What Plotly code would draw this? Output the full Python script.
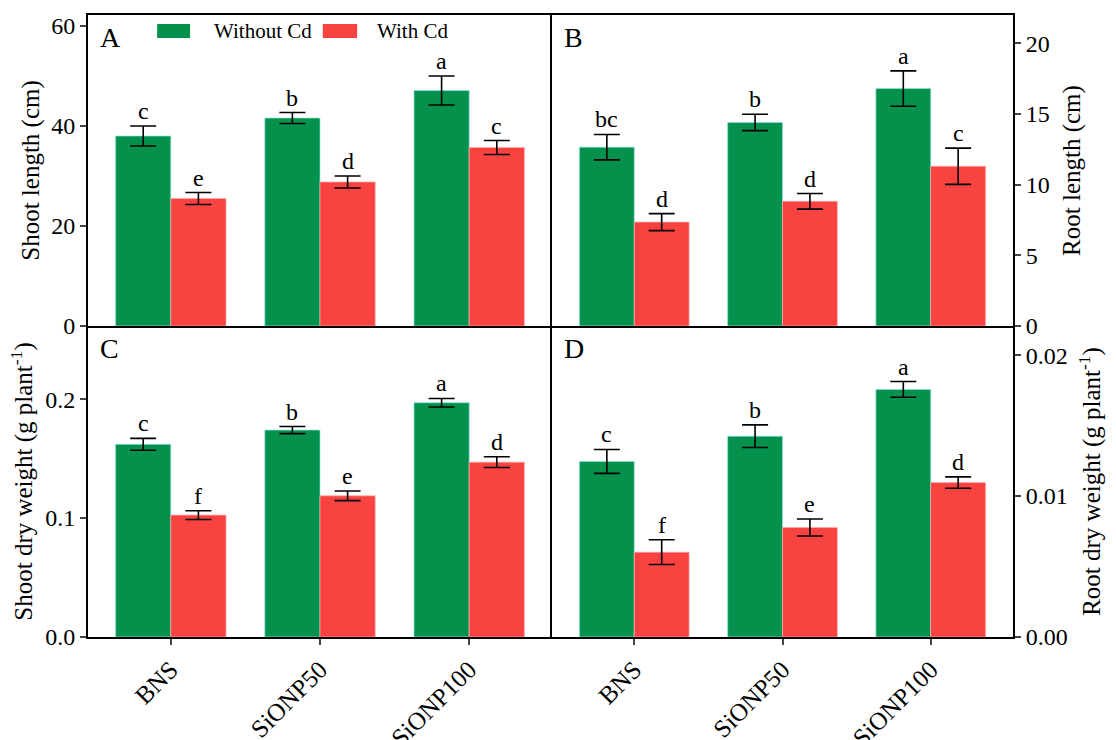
import plotly.graph_objects as go
from plotly.subplots import make_subplots

categories = ["BNS", "SiONP50", "SiONP100"]
series_names = ["Without Cd", "With Cd"]

# Panel A: shoot length (cm)
shoot_len_wo = [38.0, 41.6, 47.1]
shoot_len_wo_se = [2.0, 1.1, 2.9]
shoot_len_w = [25.5, 28.8, 35.7]
shoot_len_w_se = [1.2, 1.2, 1.4]
shoot_len_wo_lab = ["c", "b", "a"]
shoot_len_w_lab = ["e", "d", "c"]

# Panel B: root length (cm)
root_len_wo = [12.65, 14.4, 16.8]
root_len_wo_se = [0.9, 0.58, 1.25]
root_len_w = [7.35, 8.82, 11.3]
root_len_w_se = [0.6, 0.55, 1.28]
root_len_wo_lab = ["bc", "b", "a"]
root_len_w_lab = ["d", "d", "c"]

# Panel C: shoot dry weight (g plant-1)
shoot_dw_wo = [0.162, 0.174, 0.197]
shoot_dw_wo_se = [0.005, 0.003, 0.0036]
shoot_dw_w = [0.1025, 0.1187, 0.147]
shoot_dw_w_se = [0.0037, 0.004, 0.0045]
shoot_dw_wo_lab = ["c", "b", "a"]
shoot_dw_w_lab = ["f", "e", "d"]

# Panel D: root dry weight (g plant-1)
root_dw_wo = [0.01246, 0.01425, 0.01757]
root_dw_wo_se = [0.00085, 0.0008, 0.00056]
root_dw_w = [0.00602, 0.00777, 0.01096]
root_dw_w_se = [0.00088, 0.0006, 0.0004]
root_dw_wo_lab = ["c", "b", "a"]
root_dw_w_lab = ["f", "e", "d"]

GREEN = "#03914B"
RED = "#F94341"
FONT = "Liberation Serif"

fig = make_subplots(rows=2, cols=2, horizontal_spacing=0, vertical_spacing=0)

panels = [
    (1, 1, shoot_len_wo, shoot_len_wo_se, shoot_len_w, shoot_len_w_se, shoot_len_wo_lab, shoot_len_w_lab, "A"),
    (1, 2, root_len_wo, root_len_wo_se, root_len_w, root_len_w_se, root_len_wo_lab, root_len_w_lab, "B"),
    (2, 1, shoot_dw_wo, shoot_dw_wo_se, shoot_dw_w, shoot_dw_w_se, shoot_dw_wo_lab, shoot_dw_w_lab, "C"),
    (2, 2, root_dw_wo, root_dw_wo_se, root_dw_w, root_dw_w_se, root_dw_wo_lab, root_dw_w_lab, "D"),
]

bargap = 0.26
half = (1 - bargap) / 4.0  # offset of each bar centre from category centre

annotations = []
for idx, (r, c, wo, wo_se, w, w_se, wo_lab, w_lab, letter) in enumerate(panels):
    xref = "x" if idx == 0 else f"x{idx+1}"
    yref = "y" if idx == 0 else f"y{idx+1}"
    for vals, errs, name, col, labs, sign in [
        (wo, wo_se, series_names[0], GREEN, wo_lab, -1),
        (w, w_se, series_names[1], RED, w_lab, 1),
    ]:
        fig.add_trace(
            go.Bar(
                x=categories, y=vals, name=name,
                marker=dict(color=col, line=dict(color="rgba(140,230,230,0.7)" if col == GREEN else "rgba(255,170,170,0.7)", width=1)),
                error_y=dict(type="data", array=errs, visible=True, color="black", thickness=1.6, width=13),
                showlegend=False,
            ),
            row=r, col=c,
        )
        for i, (v, e, lab) in enumerate(zip(vals, errs, labs)):
            annotations.append(dict(
                x=i + sign * half, y=v + e, xref=xref, yref=yref,
                text=lab, showarrow=False, yanchor="bottom", yshift=0,
                font=dict(family=FONT, size=24, color="black"),
            ))
    annotations.append(dict(
        x=0.022, y=0.985, xref=f"{xref} domain", yref=f"{yref} domain",
        text=letter, showarrow=False, xanchor="left", yanchor="top",
        font=dict(family=FONT, size=28, color="black"),
    ))

# Legend drawn inside panel A
shapes = []
leg_items = [(series_names[0], GREEN, 0.149, 0.220, 0.267), (series_names[1], RED, 0.506, 0.580, 0.619)]
for name, col, x0, x1, xt in leg_items:
    shapes.append(dict(type="rect", xref="x domain", yref="y domain", x0=x0, x1=x1, y0=0.926, y1=0.971,
                       fillcolor=col, line=dict(width=0)))
    annotations.append(dict(x=xt, y=0.949, xref="x domain", yref="y domain", text=name, showarrow=False,
                            xanchor="left", yanchor="middle", font=dict(family=FONT, size=21, color="black")))

W, H = 1116, 740
L, R, T, B = 88, 103, 15, 103
pw = W - L - R
split_x = (552 - L) / pw

fig.update_layout(
    width=W, height=H,
    margin=dict(l=L, r=R, t=T, b=B, autoexpand=False),
    plot_bgcolor="white", paper_bgcolor="white",
    barmode="group", bargap=bargap, bargroupgap=0,
    font=dict(family=FONT, size=24, color="black"),
    annotations=annotations, shapes=shapes,
    showlegend=False,
)

axis_common = dict(showline=True, linecolor="black", linewidth=2, showgrid=False,
                   zeroline=False, automargin=False)

for idx in range(4):
    col = idx % 2 + 1
    row = idx // 2 + 1
    xdom = [0, split_x] if col == 1 else [split_x, 1]
    ydom = [0.5, 1] if row == 1 else [0, 0.5]
    # draw each shared border only once
    fig.update_xaxes(domain=xdom, range=[-0.555, 2.555], mirror=(row == 1), row=row, col=col, **axis_common)
    fig.update_yaxes(domain=ydom, mirror=(col == 2), row=row, col=col, **axis_common)
    if row == 1:
        fig.update_xaxes(showticklabels=False, ticks="", row=row, col=col)
    else:
        fig.update_xaxes(ticks="outside", ticklen=6, tickwidth=2, tickangle=-45,
                         tickfont=dict(family=FONT, size=25), row=row, col=col)

ytick = dict(ticks="outside", ticklen=6, tickwidth=2, tickfont=dict(family=FONT, size=24))
tfont = dict(family=FONT, size=25)
fig.update_yaxes(range=[0, 62.2], dtick=20, title=dict(text="Shoot length (cm)", font=tfont, standoff=4), row=1, col=1, **ytick)
fig.update_yaxes(range=[0, 22.0], dtick=5, side="right", title=dict(text="Root length (cm)", font=tfont, standoff=14), row=1, col=2, **ytick)
fig.update_yaxes(range=[0, 0.2615], dtick=0.1, tickformat=".1f", title=dict(text="Shoot dry weight (g plant<sup>-1</sup>)", font=tfont, standoff=5), row=2, col=1, **ytick)
fig.update_yaxes(range=[0, 0.02207], dtick=0.01, tickformat=".2f", side="right", title=dict(text="Root dry weight (g plant<sup>-1</sup>)", font=tfont, standoff=16), row=2, col=2, **ytick)

fig.write_html("out.html", config={"displayModeBar": False},
               post_script="document.body.style.margin='0px';document.body.style.overflow='hidden';")
